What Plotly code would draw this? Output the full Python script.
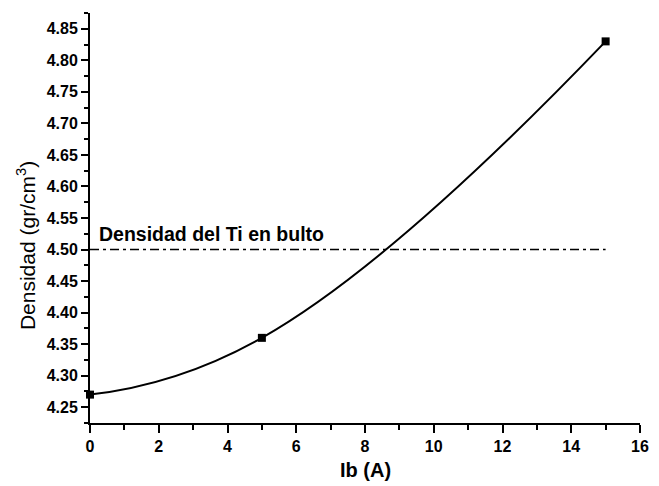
import plotly.graph_objects as go

# Beam current (A) and measured film density (g/cm^3)
ib_current = [0, 5, 15]
density = [4.27, 4.36, 4.83]

# Bulk titanium density reference line
bulk_x = [0, 15]
bulk_density = 4.50
bulk_label = "Densidad del Ti en bulto"

x_ticks = [0, 2, 4, 6, 8, 10, 12, 14, 16]
y_ticks = [4.25, 4.30, 4.35, 4.40, 4.45, 4.50, 4.55, 4.60, 4.65, 4.70, 4.75, 4.80, 4.85]

FONT = "Liberation Sans, Arial, Helvetica, sans-serif"

fig = go.Figure()

fig.add_trace(go.Scatter(
    x=bulk_x, y=[bulk_density] * len(bulk_x), mode="lines",
    line=dict(color="black", width=1.5, dash="9px,4px,3px,4px"),
    hoverinfo="skip", showlegend=False,
))

fig.add_trace(go.Scatter(
    x=ib_current, y=density, mode="lines+markers",
    line=dict(color="black", width=2, shape="spline", smoothing=1.3),
    marker=dict(symbol="square", size=8, color="black"),
    cliponaxis=False, showlegend=False,
))

axis_common = dict(
    showgrid=False, zeroline=False, showline=True, linecolor="black", linewidth=2,
    ticks="outside", tickcolor="black", tickwidth=2,
    tickfont=dict(family=FONT, size=16, color="black", weight="bold"),
)

fig.update_layout(
    width=659, height=486,
    margin=dict(l=90, r=10, t=13, b=63),
    plot_bgcolor="white", paper_bgcolor="white",
    xaxis=dict(
        range=[0, 16], tickvals=x_ticks, ticktext=[str(v) for v in x_ticks], ticklen=8,
        minor=dict(dtick=1, tick0=0, ticks="outside", ticklen=5, tickcolor="black", tickwidth=2),
        **axis_common,
    ),
    yaxis=dict(
        range=[4.225, 4.875], tickvals=y_ticks, ticktext=[f"{v:.2f}" for v in y_ticks], ticklen=7,
        minor=dict(dtick=0.025, tick0=4.25, ticks="outside", ticklen=4, tickcolor="black", tickwidth=2),
        **axis_common,
    ),
    annotations=[
        dict(
            text="Densidad (gr/cm<sup>3</sup>)", xref="paper", yref="paper",
            x=-0.116, y=0.432, xanchor="center", yanchor="middle", textangle=-90,
            showarrow=False, font=dict(family=FONT, size=21, color="black"),
        ),
        dict(
            text="Ib (A)", xref="paper", yref="paper",
            x=0.5, y=-0.115, xanchor="center", yanchor="middle",
            showarrow=False, font=dict(family=FONT, size=20, color="black", weight="bold"),
        ),
        dict(
            text=bulk_label, xref="x", yref="y", x=0.2, y=bulk_density,
            xanchor="left", yanchor="bottom", yshift=3, showarrow=False,
            font=dict(family=FONT, size=19.5, color="black", weight="bold"),
        ),
    ],
)

fig.write_html("out.html")
